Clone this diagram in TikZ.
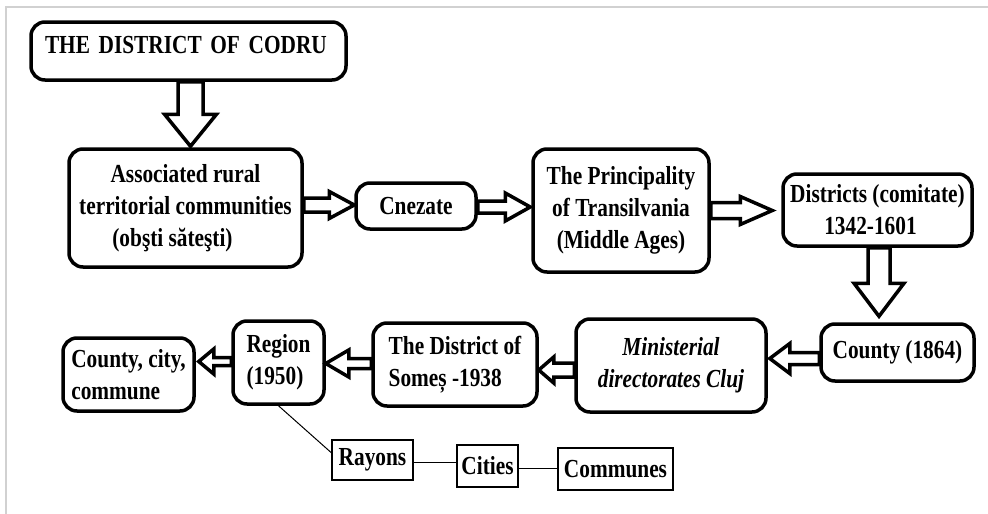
\documentclass[tikz,border=0pt]{standalone}
\usepackage{fontspec}
\setmainfont{Liberation Serif}[FakeStretch=0.82]
\usetikzlibrary{calc}

% Hollow block arrow from #1 to #2:
% #3 half shaft width, #4 half head width, #5 head length, #6 gap left before the target
\newcommand{\blockarrow}[6]{%
  \coordinate (ba-a) at (#1);
  \coordinate (ba-b) at (#2);
  \pgfmathsetmacro{\bahead}{#5+#6}%
  \coordinate (ba-t) at ($(ba-b)!#6pt!(ba-a)$);
  \coordinate (ba-h) at ($(ba-b)!\bahead pt!(ba-a)$);
  \draw[hollow]
    ($(ba-a)!#3pt!90:(ba-b)$) -- ($(ba-h)!#3pt!-90:(ba-a)$) --
    ($(ba-h)!#4pt!-90:(ba-a)$) -- (ba-t) --
    ($(ba-h)!#4pt!90:(ba-a)$) -- ($(ba-h)!#3pt!90:(ba-a)$) --
    ($(ba-a)!#3pt!-90:(ba-b)$) -- cycle;
}

\tikzset{
  txt/.style={font=\fontsize{26}{32}\selectfont\bfseries},
  stage/.style={txt, draw, line width=3.5pt, rounded corners=14pt, fill=white,
    inner sep=0pt, align=center},
  unit/.style={txt, draw, line width=1.3pt, fill=white, inner sep=0pt},
  hollow/.style={draw, line width=3.5pt, fill=white, line join=miter, miter limit=20},
  link/.style={line width=1pt},
  edge line/.style={draw=black!18, line width=2pt}
}

\begin{document}
\begin{tikzpicture}[x=1pt, y=-1pt]
  \useasboundingbox (0,0) rectangle (988,514);
  \fill[white] (0,0) rectangle (988,514);
  \draw[edge line] (6,514) -- (6,7) -- (988,7);

  % upper row
  \node[stage, minimum width=315pt, minimum height=58pt, align=left,
        text width=287pt, text depth=12pt] (codru) at (188.5,51)
        {THE DISTRICT OF CODRU};
  \node[stage, minimum width=233pt, minimum height=118pt] (assoc) at (185.5,208)
        {Associated rural\\ territorial communities\\ (obşti săteşti)\hspace*{26pt}};
  \node[stage, minimum width=120pt, minimum height=46pt] (cnez) at (416,206)
        {Cnezate};
  \node[stage, minimum width=176pt, minimum height=123pt] (princ) at (621,210.5)
        {The Principality\\ of Transilvania\\ (Middle Ages)};
  \node[stage, minimum width=189pt, minimum height=72pt] (dist) at (877.5,210)
        {Districts (comitate)\\ 1342-1601\hspace*{14pt}};

  % lower row
  \node[stage, minimum width=153pt, minimum height=57pt] (county) at (897.5,352.5)
        {County (1864)};
  \node[stage, minimum width=190pt, minimum height=93pt] (mini) at (671,365.5)
        {\itshape Ministerial\\ \itshape directorates Cluj};
  \node[stage, align=left, minimum width=164pt, minimum height=83pt] (somes) at (455,364.5)
        {The District of\\ Someș -1938};
  \node[stage, align=left, minimum width=91pt, minimum height=83pt] (region) at (278.5,362.5)
        {Region\\ (1950)};
  \node[stage, align=left, minimum width=131pt, minimum height=73pt] (ccc) at (128.5,374.5)
        {County, city,\\ commune};

  % subdivisions of the region
  \node[unit, minimum width=81pt, minimum height=40pt] (rayons) at (372.5,460) {Rayons};
  \node[unit, minimum width=61pt, minimum height=42pt] (cities) at (487.5,466) {Cities};
  \node[unit, minimum width=115pt, minimum height=42pt] (communes) at (615.5,469) {Communes};

  \draw[link] (region.south) -- (rayons.170);
  \draw[link] ([yshift=-2pt]rayons.east) -- ([yshift=-2pt]rayons.east -| cities.west);
  \draw[link] ([yshift=-2pt]cities.east) -- ([yshift=-2pt]cities.east -| communes.west);

  % succession arrows
  \blockarrow{[xshift=2pt]codru.south}{ba-a |- assoc.north}{12.5}{26}{32}{1}
  \blockarrow{[yshift=3pt]assoc.east}{cnez.west |- ba-a}{7}{13.5}{25}{0}
  \blockarrow{[yshift=-1pt]cnez.east}{princ.west |- ba-a}{6}{14}{25}{1}
  \blockarrow{princ.east}{dist.west |- ba-a}{8}{14}{32}{9}
  \blockarrow{[xshift=1.5pt]dist.south}{ba-a |- county.north}{11}{25}{33}{6}
  \blockarrow{[yshift=-6pt]county.west}{mini.east |- ba-a}{6}{15}{20}{2}
  \blockarrow{[yshift=-4.5pt]mini.west}{somes.east |- ba-a}{7}{13}{15}{0}
  \blockarrow{[yshift=1pt]somes.west}{region.east |- ba-a}{5}{13.5}{23}{0}
  \blockarrow{[yshift=1pt]region.west}{ccc.east |- ba-a}{4}{12.5}{15}{3}
\end{tikzpicture}
\end{document}
